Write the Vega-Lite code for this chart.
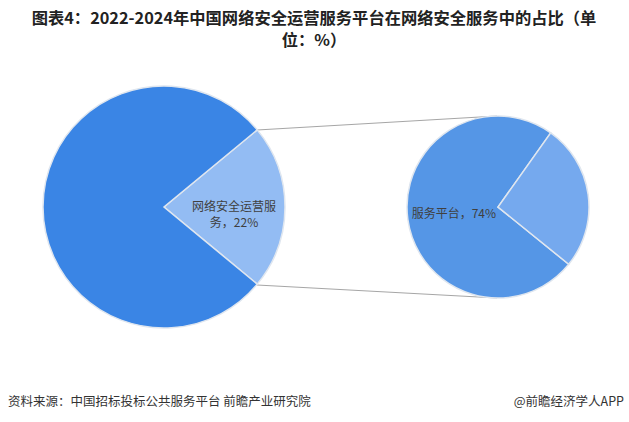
{
  "$schema": "https://vega.github.io/schema/vega-lite/v6.json",
  "width": 629,
  "height": 422,
  "padding": 0,
  "autosize": {"type": "none"},
  "background": "white",
  "config": {"view": {"stroke": null}, "text": {"font": "Noto Sans CJK SC"}},
  "datasets": {
    "overall": [
      {"segment": "网络安全运营服务", "share": 22},
      {"segment": "其他网络安全服务", "share": 78}
    ],
    "detail": [
      {"segment": "服务平台", "share": 74},
      {"segment": "其他运营服务", "share": 26}
    ],
    "one": [{"k": 1}]
  },
  "resolve": {"scale": {"theta": "independent"}},
  "layer": [
    {
      "data": {"name": "one"},
      "mark": {"type": "rule", "stroke": "#a6a6a6", "strokeWidth": 1},
      "encoding": {
        "x": {"datum": 257, "type": "quantitative", "scale": {"domain": [0, 629], "nice": false, "zero": false}, "axis": null},
        "y": {"datum": 130, "type": "quantitative", "scale": {"domain": [0, 422], "nice": false, "zero": false, "reverse": true}, "axis": null},
        "x2": {"datum": 497},
        "y2": {"datum": 116}
      }
    },
    {
      "data": {"name": "one"},
      "mark": {"type": "rule", "stroke": "#a6a6a6", "strokeWidth": 1},
      "encoding": {
        "x": {"datum": 257, "type": "quantitative"},
        "y": {"datum": 285, "type": "quantitative"},
        "x2": {"datum": 497},
        "y2": {"datum": 298}
      }
    },
    {
      "data": {"name": "overall"},
      "mark": {"type": "arc", "radius": 121, "stroke": "#dfe6ef", "strokeWidth": 1.5},
      "encoding": {
        "x": {"datum": 164, "type": "quantitative"},
        "y": {"datum": 207, "type": "quantitative"},
        "theta": {"field": "share", "type": "quantitative", "stack": true, "scale": {"range": [0.8796, 7.1628]}},
        "order": {"field": "share", "sort": "ascending"},
        "color": {
          "field": "segment",
          "type": "nominal",
          "scale": {
            "domain": ["网络安全运营服务", "其他网络安全服务", "服务平台", "其他运营服务"],
            "range": ["#93bcf3", "#3a85e5", "#5596e6", "#75a9ee"]
          },
          "legend": null
        }
      }
    },
    {
      "data": {"name": "detail"},
      "mark": {"type": "arc", "radius": 91, "stroke": "#dfe6ef", "strokeWidth": 1.5},
      "encoding": {
        "x": {"datum": 498, "type": "quantitative"},
        "y": {"datum": 207, "type": "quantitative"},
        "theta": {"field": "share", "type": "quantitative", "stack": true, "scale": {"range": [0.618, 6.9012]}},
        "order": {"field": "share", "sort": "ascending"},
        "color": {"field": "segment", "type": "nominal", "legend": null}
      }
    },
    {
      "data": {"name": "one"},
      "mark": {"type": "text", "fontSize": 12, "color": "#404040", "align": "center", "baseline": "middle", "lineHeight": 16},
      "encoding": {
        "x": {"datum": 234, "type": "quantitative"},
        "y": {"datum": 207, "type": "quantitative"},
        "text": {"value": ["网络安全运营服", "务，22%"]}
      }
    },
    {
      "data": {"name": "one"},
      "mark": {"type": "text", "fontSize": 12, "color": "#404040", "align": "right", "baseline": "middle"},
      "encoding": {
        "x": {"datum": 496, "type": "quantitative"},
        "y": {"datum": 214, "type": "quantitative"},
        "text": {"value": "服务平台，74%"}
      }
    },
    {
      "data": {"name": "one"},
      "mark": {"type": "text", "fontSize": 16.3, "fontWeight": "bold", "color": "#222222", "align": "center", "baseline": "middle"},
      "encoding": {
        "x": {"datum": 314, "type": "quantitative"},
        "y": {"datum": 19, "type": "quantitative"},
        "text": {"value": "图表4：2022-2024年中国网络安全运营服务平台在网络安全服务中的占比（单"}
      }
    },
    {
      "data": {"name": "one"},
      "mark": {"type": "text", "fontSize": 16.3, "fontWeight": "bold", "color": "#222222", "align": "center", "baseline": "middle"},
      "encoding": {
        "x": {"datum": 314, "type": "quantitative"},
        "y": {"datum": 41, "type": "quantitative"},
        "text": {"value": "位：%）"}
      }
    },
    {
      "data": {"name": "one"},
      "mark": {"type": "text", "fontSize": 12.5, "color": "#333333", "align": "left", "baseline": "middle"},
      "encoding": {
        "x": {"datum": 8, "type": "quantitative"},
        "y": {"datum": 402, "type": "quantitative"},
        "text": {"value": "资料来源：中国招标投标公共服务平台 前瞻产业研究院"}
      }
    },
    {
      "data": {"name": "one"},
      "mark": {"type": "text", "fontSize": 12.5, "color": "#333333", "align": "right", "baseline": "middle"},
      "encoding": {
        "x": {"datum": 624, "type": "quantitative"},
        "y": {"datum": 402, "type": "quantitative"},
        "text": {"value": "@前瞻经济学人APP"}
      }
    }
  ]
}
